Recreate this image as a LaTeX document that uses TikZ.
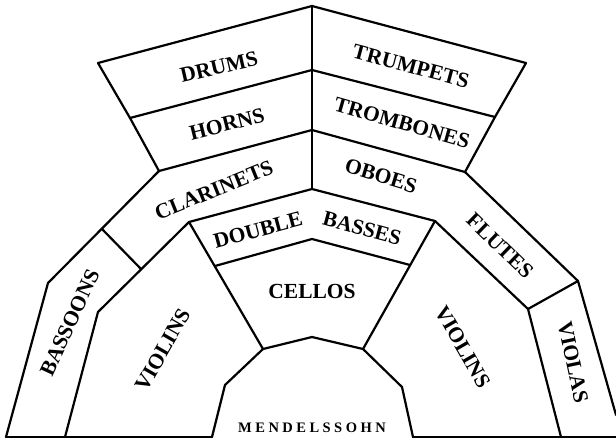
\documentclass[tikz,border=0pt]{standalone}
\usepackage{fontspec}
\newfontfamily\platzfont{Liberation Serif}
\newfontfamily\dirfont[LetterSpace=24]{Liberation Serif}
\usepackage{tikz}

\begin{document}
\begin{tikzpicture}[x=1pt, y=-1pt,
    wall/.style={line width=2.2pt, line join=round, line cap=round},
    sect/.style={font=\platzfont\bfseries\fontsize{21.5}{21.5}\selectfont, inner sep=0pt},
    cond/.style={font=\dirfont\bfseries\fontsize{14.5}{14.5}\selectfont, inner sep=0pt}
]
\useasboundingbox (0,0) rectangle (616,439);

\coordinate (top) at (312,6);
\coordinate (tl) at (98,63);
\coordinate (tr) at (526,63);
\coordinate (dl) at (130,118);
\coordinate (dc) at (312,70);
\coordinate (dr) at (495,117);
\coordinate (hl) at (159,171);
\coordinate (hc) at (312,130);
\coordinate (hr) at (465,172);
\coordinate (oc) at (312,189);
\coordinate (cli) at (189,222);
\coordinate (obi) at (435,221);
\coordinate (bso) at (48,283);
\coordinate (bsi) at (98,312);
\coordinate (flo) at (578,281);
\coordinate (fli) at (528,309);

% outline
\draw[wall] (6,437) -- (bso) -- (hl) -- (dl) -- (tl) -- (top) -- (tr) -- (dr) -- (hr) -- (flo) -- (616,415);
\draw[wall] (6,437) -- (212,437);
\draw[wall] (413,437) -- (616,437);
\draw[wall] (top) -- (oc);
\draw[wall] (dl) -- (dc) -- (dr);
\draw[wall] (hl) -- (hc) -- (hr);
\draw[wall] (65,437) -- (bsi) -- (cli) -- (oc) -- (obi) -- (fli) -- (561,437);
\draw[wall] (102,229) -- (141,269);
\draw[wall] (fli) -- (flo);
\draw[wall] (215,266) -- (312,239) -- (410,265);
\draw[wall] (cli) -- (263,349);
\draw[wall] (obi) -- (363,349);
\draw[wall] (212,437) -- (225,385) -- (263,349) -- (312,337) -- (363,349) -- (402,387) -- (413,437);

\node[sect, rotate=13] (drums) at (219,67) {DRUMS};
\node[sect, rotate=14] (horns) at (227,124) {HORNS};
\node[sect, rotate=22] (clar) at (214,190) {CLARINETS};
\node[sect, rotate=-15] (trp) at (411,66) {TRUMPETS};
\node[sect, rotate=-16] (trb) at (402,123) {TROMBONES};
\node[sect, rotate=-17] (obo) at (381,176) {OBOES};
\node[sect, rotate=15] (dbl) at (258,230) {DOUBLE};
\node[sect, rotate=-15] (bas) at (362,228) {BASSES};
\node[sect] (vc) at (312,291) {CELLOS};
\node[sect, rotate=65] (bsn) at (70,323) {BASSOONS};
\node[sect, rotate=60] (vl1) at (163,350) {VIOLINS};
\node[sect, rotate=-60] (vl2) at (463,347) {VIOLINS};
\node[sect, rotate=-44] (flt) at (500,246) {FLUTES};
\node[sect, rotate=-78] (vla) at (573,362) {VIOLAS};
\node[cond] (mend) at (312,428) {MENDELSSOHN};
\end{tikzpicture}
\end{document}
